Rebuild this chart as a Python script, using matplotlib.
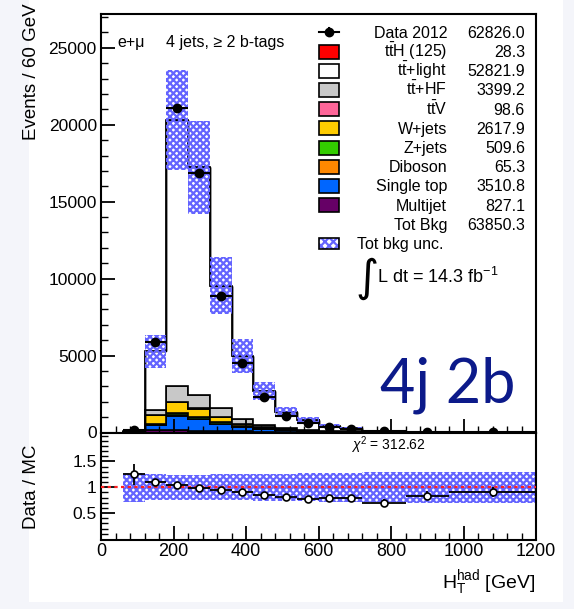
import numpy as np
import matplotlib
matplotlib.use("Agg")
import matplotlib.pyplot as plt
from matplotlib.patches import Rectangle
from matplotlib.ticker import MultipleLocator, FixedLocator, FuncFormatter

plt.rcParams['font.family'] = ['Liberation Sans', 'DejaVu Sans']
plt.rcParams['mathtext.fontset'] = 'custom'
plt.rcParams['mathtext.rm'] = 'Liberation Sans'
plt.rcParams['mathtext.it'] = 'Liberation Sans:italic'
plt.rcParams['mathtext.bf'] = 'Liberation Sans:bold'
plt.rcParams['hatch.linewidth'] = 1.6
plt.rcParams['hatch.color'] = '#6464ff'

# binning (GeV), events normalised per 60 GeV
edges = np.array([0, 60, 120, 180, 240, 300, 360, 420, 480, 540, 600, 660, 720, 840, 960, 1200])

# stack components, bottom to top
multijet = [0, 20, 150, 130, 110, 90, 70, 50, 35, 25, 20, 15, 9, 5, 2]
single_top = [0, 10, 350, 970, 780, 475, 275, 180, 110, 70, 45, 30, 17, 8, 3]
diboson = [0, 1, 5, 12, 12, 10, 8, 6, 4, 3, 2, 1, 1, 0, 0]
zjets = [0, 5, 70, 130, 110, 80, 45, 25, 15, 10, 6, 4, 2, 1, 0.5]
wjets = [0, 5, 575, 728, 528, 345, 167, 100, 60, 35, 25, 15, 9, 5, 2]
ttv = [0, 0, 5, 20, 22, 18, 12, 8, 5, 3, 2, 1, 1, 0.5, 0]
tthf = [0, 5, 320, 1000, 900, 580, 313, 150, 75, 40, 25, 15, 8, 4, 1.5]
ttlight = [0, 59, 3805, 17310, 14768, 7947, 4080, 2181, 1036, 594, 320, 179, 73, 19, 3]
tth = [0, 0, 1, 4, 6, 5, 4, 3, 2, 1, 0.5, 0.3, 0.2, 0.1, 0]

data = [0, 130, 5865, 21100, 16840, 8900, 4500, 2290, 1100, 600, 350, 205, 85, 35, 11]
bkg_unc = [0, 0.3, 0.2, 0.16, 0.175, 0.195, 0.22, 0.21, 0.26, 0.27, 0.28, 0.28, 0.3, 0.3, 0.3]

# ratio panel (bins from 60 GeV on)
ratio = [1.25, 1.11, 1.05, 0.99, 0.94, 0.905, 0.86, 0.82, 0.77, 0.785, 0.785, 0.70, 0.84, 0.91]
ratio_err = [0.2, 0.03, 0.015, 0.015, 0.02, 0.025, 0.03, 0.04, 0.05, 0.06, 0.07, 0.07, 0.09, 0.1]
ratio_unc = [0.28, 0.25, 0.24, 0.24, 0.25, 0.25, 0.26, 0.26, 0.27, 0.28, 0.28, 0.29, 0.3, 0.3]

leg_labels = ['Data 2012', r'$\mathrm{t\bar{t}}$H (125)', r'$\mathrm{t\bar{t}}$+light', r'$\mathrm{t\bar{t}}$+HF',
              r'$\mathrm{t\bar{t}}$V', 'W+jets', 'Z+jets', 'Diboson', 'Single top', 'Multijet', 'Tot Bkg']
leg_values = ['62826.0', '28.3', '52821.9', '3399.2', '98.6', '2617.9', '509.6', '65.3', '3510.8', '827.1', '63850.3']
leg_colors = [None, '#ff0000', 'white', '#c8c8c8', '#ff6699', '#ffcc00', '#33cc00', '#ff8800', '#0066ff', '#660066', None]

W, H = 574, 609
fig = plt.figure(figsize=(W / 100, H / 100), dpi=100, facecolor='#f4f5fa')


def fx(px):
    return px / W


def fy(py):
    return 1 - py / H


fig.add_artist(Rectangle((fx(29), fy(602)), (563 - 29) / W, 602 / H, transform=fig.transFigure,
                         facecolor='white', edgecolor='none', zorder=-10))

ax = fig.add_axes([fx(101), fy(432.5), (536 - 101) / W, (432.5 - 14) / H])
rax = fig.add_axes([fx(101), fy(540), (536 - 101) / W, (540 - 432.5) / H])

centers = 0.5 * (edges[:-1] + edges[1:])
half = 0.5 * np.diff(edges)

# stacked backgrounds
layers = [(multijet, '#660066'), (single_top, '#0066ff'), (diboson, '#ff8800'), (zjets, '#33cc00'),
          (wjets, '#ffcc00'), (ttv, '#ff6699'), (tthf, '#c8c8c8'), (ttlight, 'white')]
bottom = np.zeros(len(edges) - 1)
for vals, col in layers:
    vals = np.asarray(vals, float)
    ax.stairs(bottom + vals, edges, baseline=bottom, fill=True, facecolor=col, edgecolor='black', linewidth=1.2)
    bottom = bottom + vals
mc = bottom.copy()
ax.stairs(mc + np.asarray(tth), edges, baseline=mc, fill=True, facecolor='#ff0000', edgecolor='black', linewidth=1.0)

unc = np.asarray(bkg_unc)
ax.stairs(mc * (1 + unc), edges, baseline=mc * (1 - unc), fill=True, facecolor='none',
          edgecolor='#6464ff', hatch='xxxxx', linewidth=0, zorder=3)

d = np.asarray(data, float)
m = d > 0
ax.errorbar(centers[m], d[m], xerr=half[m], yerr=np.sqrt(d[m]), fmt='o', color='black',
            ms=6, lw=1.5, capsize=0, zorder=5)

ax.set_xlim(0, 1200)
ax.set_ylim(0, 27200)
ax.yaxis.set_major_locator(MultipleLocator(5000))
ax.yaxis.set_minor_locator(MultipleLocator(1000))

# ratio panel
r_edges = edges[1:]
rc = centers[1:]
ru = np.asarray(ratio_unc)
rax.stairs(1 + ru, r_edges, baseline=1 - ru, fill=True, facecolor='none', edgecolor='#6464ff',
           hatch='xxxxx', linewidth=0, zorder=2)
rax.axhline(1, color='#ff2020', ls=(0, (1.5, 1.5)), lw=1.6, zorder=4)
rax.errorbar(rc, ratio, xerr=half[1:], yerr=ratio_err, fmt='o', mfc='white', mec='black', color='black',
             ms=5, mew=1.2, lw=1.3, capsize=0, zorder=5)
rax.set_xlim(0, 1200)
rax.set_ylim(-0.02, 2.06)
rax.yaxis.set_major_locator(FixedLocator([0.5, 1.0, 1.5]))
rax.yaxis.set_minor_locator(FixedLocator(np.arange(0.1, 2.01, 0.1)))
rax.yaxis.set_major_formatter(FuncFormatter(lambda v, p: '%g' % v))

for a in (ax, rax):
    a.xaxis.set_major_locator(MultipleLocator(200))
    a.xaxis.set_minor_locator(MultipleLocator(40))
    a.tick_params(which='both', direction='in', top=False, right=False, pad=3)
    a.tick_params(which='major', length=10, width=1.3, labelsize=12.5)
    a.tick_params(which='minor', length=5, width=1.0)
    for s in a.spines.values():
        s.set_linewidth(1.5)
ax.tick_params(labelbottom=False)
rax.tick_params(axis='x', labelsize=13, pad=2)

# axis titles
fig.text(fx(32), fy(3), 'Events / 60 GeV', rotation=90, ha='center', va='top', fontsize=13.5)
fig.text(fx(32), fy(487), 'Data / MC', rotation=90, ha='center', va='center', fontsize=13.5)
fig.text(fx(535), fy(588), r'$\mathrm{H_{T}^{had}}$ [GeV]', ha='right', va='baseline', fontsize=14)

# channel labels
fig.text(fx(117), fy(42), 'e+μ', ha='left', va='center', fontsize=11.5)
fig.text(fx(166), fy(42), '4 jets, ≥ 2 b-tags', ha='left', va='center', fontsize=11.5)

# legend
row0, step = 32.3, 19.2
for i, (lab, val, col) in enumerate(zip(leg_labels, leg_values, leg_colors)):
    yc = row0 + i * step
    fig.text(fx(447), fy(yc + 5.5), lab, ha='right', va='baseline', fontsize=11.5)
    fig.text(fx(525), fy(yc + 5.5), val, ha='right', va='baseline', fontsize=11.5)
    if col is not None:
        fig.add_artist(Rectangle((fx(319), fy(yc + 7)), 20 / W, 14 / H, transform=fig.transFigure,
                                 facecolor=col, edgecolor='black', linewidth=1.2))
    elif i == 0:
        fig.add_artist(plt.Line2D([fx(319), fx(339)], [fy(yc), fy(yc)], transform=fig.transFigure,
                                  color='black', lw=1.5))
        fig.add_artist(plt.Line2D([fx(329), fx(329)], [fy(yc - 4), fy(yc + 4)], transform=fig.transFigure,
                                  color='black', lw=1.5))
        fig.add_artist(plt.Line2D([fx(329)], [fy(yc)], transform=fig.transFigure, marker='o',
                                  color='black', ms=6))
yc = row0 + 11 * step
fig.add_artist(Rectangle((fx(319), fy(yc + 5.5)), 20 / W, 11 / H, transform=fig.transFigure,
                         facecolor='none', edgecolor='#6464ff', hatch='xxxx', linewidth=0))
fig.add_artist(Rectangle((fx(319), fy(yc + 5.5)), 20 / W, 11 / H, transform=fig.transFigure,
                         facecolor='none', edgecolor='black', linewidth=1.2))
fig.text(fx(357), fy(yc + 5.5), 'Tot bkg unc.', ha='left', va='baseline', fontsize=11.5)

fig.text(fx(367), fy(278), '∫', ha='center', va='center', fontsize=32, family=['DejaVu Sans'])
fig.text(fx(377), fy(283), r'L dt = 14.3 fb$^{\mathrm{-1}}$', ha='left', va='baseline', fontsize=13)

fig.text(fx(388), fy(445), r'$\chi^{2}$ = 312.62', ha='center', va='center', fontsize=10)

fig.text(fx(515), fy(403), '4j 2b', ha='right', va='baseline', fontsize=44, color='#0c1a8a',
         family=['Lato', 'DejaVu Sans'])

fig.savefig('out.png', dpi=100, facecolor=fig.get_facecolor())
